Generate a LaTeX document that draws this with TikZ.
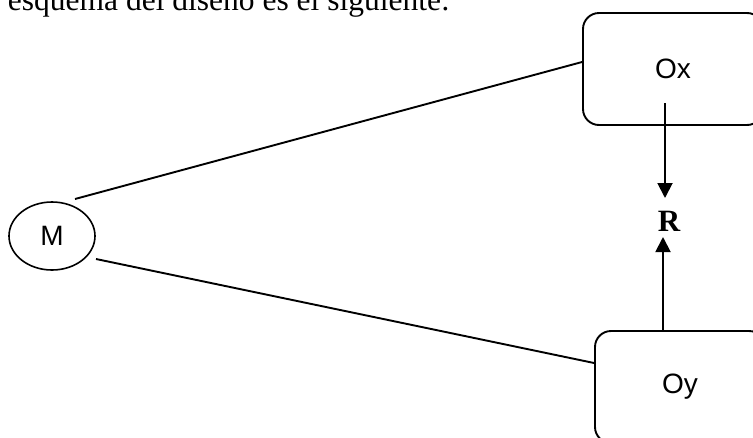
\documentclass[tikz,border=0pt]{standalone}
\usepackage{fontspec}
\setmainfont{Liberation Serif}
\newfontfamily\arialfont{Liberation Sans}
\usetikzlibrary{arrows.meta}
\usetikzlibrary{shapes}
\newcommand{\obsbox}[4]{\node[draw,rounded corners=16pt,minimum width=#3,minimum height=112pt,inner sep=0pt,font=\arialfont\fontsize{28}{32}\selectfont] (#1) at #2 {#4};}
\tikzset{flecha/.style={-{Triangle[length=15pt,width=15pt]}}}

\begin{document}
\begin{tikzpicture}[x=1pt,y=-1pt,line width=1.9pt]
\useasboundingbox (0,0) rectangle (753,437);
\clip (0,0) rectangle (753,437);
% text line above the scheme
\node[anchor=base west,inner sep=0pt,font=\fontsize{31.5}{36}\selectfont] (cap) at (7,10) {esquema del diseño es el siguiente:};
% sample
\node[draw,ellipse,line width=1.6pt,minimum width=86pt,minimum height=68pt,inner sep=0pt,font=\arialfont\fontsize{28}{32}\selectfont] (m) at (52,236) {M};
% observations
\obsbox{ox}{(673,69)}{180pt}{Ox}
\obsbox{oy}{(680,387)}{170pt}{Oy}
% relation
\node[inner sep=0pt,font=\bfseries\fontsize{31}{35}\selectfont] (r) at (669,221) {R};
% free ends
\coordinate (mtop) at (75,199);
\coordinate (mbot) at (96,259);
\coordinate (oxfoot) at (665,103);
\coordinate (rin) at (665,198);
\coordinate (rout) at (663,237);
% lines and arrows
\draw (mtop) -- ([yshift=7pt]ox.west);
\draw (mbot) -- ([yshift=24pt]oy.west);
\draw[flecha] (oxfoot) -- (rin);
\draw[flecha] (oy.north -| rout) -- (rout);
\end{tikzpicture}
\end{document}
